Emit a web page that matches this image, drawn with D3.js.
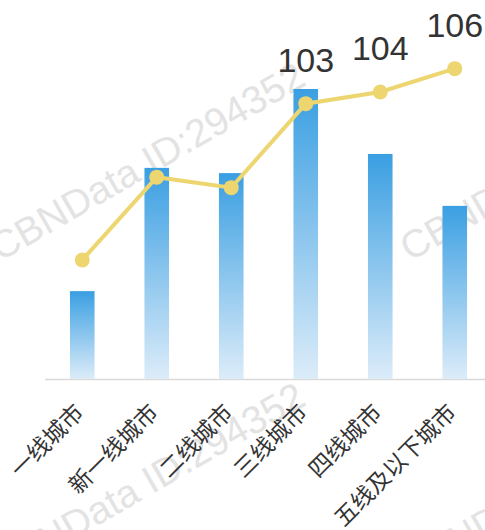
<!DOCTYPE html>
<html>
<head>
  <meta charset="utf-8">
  <script src="https://cdn.jsdelivr.net/npm/d3@7/dist/d3.min.js"></script>
  <style>
    body { margin: 0; background: #fff; }
    svg { display: block; font-family: "Liberation Sans", Arial, "Noto Sans CJK SC", sans-serif; }
  </style>
</head>
<body>
<svg width="485" height="530"></svg>
<script>
// data
const cities = ['一线城市', '新一线城市', '二线城市', '三线城市', '四线城市', '五线及以下城市'];
const barValues = [30.3, 72.8, 71.0, 100, 77.6, 59.7];
const lineValues = [89.6, 96.7, 95.8, 103, 104, 106];
const lineLabels = ['', '', '', '103', '104', '106'];
const watermark = 'CBNData ID:294352';

const svg = d3.select('svg');
const baseY = 379;

const x = d3.scaleBand().domain(cities).range([45, 492]);
const yBar = d3.scaleLinear().domain([0, 100]).range([baseY, 89]);
const yLine = d3.scaleLinear().domain([80, 110]).range([372, 22]);

// gradient for bars
const grad = svg.append('defs').append('linearGradient')
    .attr('id', 'barGrad')
    .attr('x1', 0).attr('y1', 0).attr('x2', 0).attr('y2', 1);
grad.append('stop').attr('offset', '0%').attr('stop-color', '#3a9fe2');
grad.append('stop').attr('offset', '100%').attr('stop-color', '#dcecf9');

// watermark tiles
const wm = svg.append('g');
[[0, 262], [0, 582], [410, 262], [410, 582]].forEach(p => {
  wm.append('text')
    .attr('transform', `translate(${p[0]},${p[1]}) rotate(-30)`)
    .attr('font-size', 39)
    .attr('fill', '#e3e3e3')
    .text(watermark);
});

// axis line
svg.append('line')
    .attr('x1', 45).attr('x2', 485)
    .attr('y1', baseY + 0.5).attr('y2', baseY + 0.5)
    .attr('stroke', '#dadada').attr('stroke-width', 1.5);

// bars
const bw = x.bandwidth() * 0.33;
svg.selectAll('rect.bar').data(barValues).enter().append('rect')
    .attr('class', 'bar')
    .attr('x', (d, i) => x(cities[i]) + x.bandwidth() / 2 - bw / 2)
    .attr('y', d => yBar(d))
    .attr('width', bw)
    .attr('height', d => baseY - yBar(d))
    .attr('fill', 'url(#barGrad)');

// line
const cx = (d, i) => x(cities[i]) + x.bandwidth() / 2;
svg.append('path')
    .datum(lineValues)
    .attr('d', d3.line().x(cx).y(d => yLine(d)))
    .attr('fill', 'none')
    .attr('stroke', '#edd570')
    .attr('stroke-width', 4);

svg.selectAll('circle.pt').data(lineValues).enter().append('circle')
    .attr('class', 'pt')
    .attr('cx', cx)
    .attr('cy', d => yLine(d))
    .attr('r', 7.5)
    .attr('fill', '#edd570');

svg.selectAll('text.val').data(lineValues).enter().append('text')
    .attr('class', 'val')
    .attr('x', cx)
    .attr('y', d => yLine(d) - 32)
    .attr('text-anchor', 'middle')
    .attr('font-size', 34)
    .attr('fill', '#333')
    .text((d, i) => lineLabels[i]);

// x labels
svg.selectAll('text.cat').data(cities).enter().append('text')
    .attr('class', 'cat')
    .attr('transform', d => `translate(${x(d) + x.bandwidth() / 2 + 3},414) rotate(-45)`)
    .attr('text-anchor', 'end')
    .attr('font-size', 23)
    .attr('fill', '#333')
    .text(d => d);
</script>
</body>
</html>
